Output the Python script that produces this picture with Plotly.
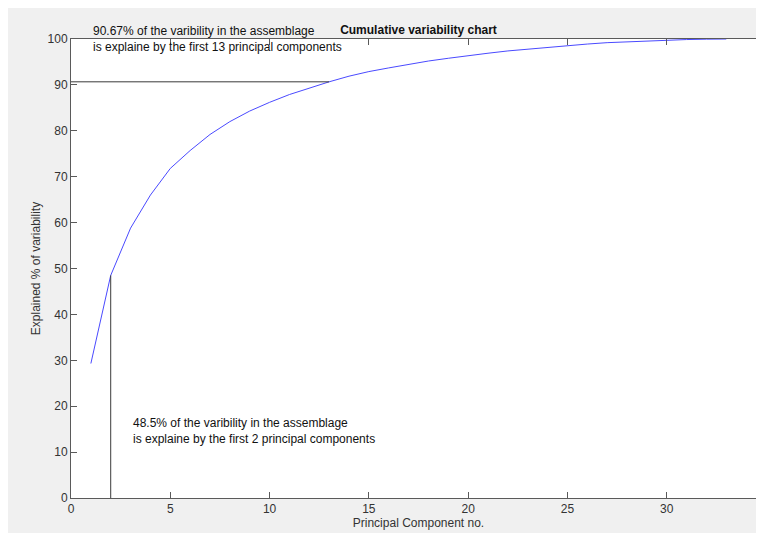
import plotly.graph_objects as go

components = list(range(1, 34))
cumulative = [29.3, 48.5, 58.8, 66.0, 71.8, 75.7, 79.2, 82.0, 84.3, 86.2,
              87.9, 89.3, 90.67, 91.9, 92.9, 93.7, 94.5, 95.2, 95.8, 96.4,
              96.9, 97.4, 97.8, 98.2, 98.6, 98.9, 99.2, 99.4, 99.6, 99.75,
              99.88, 99.96, 100.0]

h_line_x = [0, 13]
h_line_y = [90.67, 90.67]
v_line_x = [2, 2]
v_line_y = [0, 48.5]

note_top = "90.67% of the varibility in the assemblage<br>is explaine by the first 13 principal components"
note_bottom = "48.5% of the varibility in the assemblage<br>is explaine by the first 2 principal components"

x_ticks = [0, 5, 10, 15, 20, 25, 30, 35]
y_ticks = [0, 10, 20, 30, 40, 50, 60, 70, 80, 90, 100]

W, H = 800, 533
L, R, T, B = 63, 42, 31, 43

fig = go.Figure()
fig.add_trace(go.Scatter(x=components, y=cumulative, mode="lines",
                         line=dict(color="#4a4aff", width=1), showlegend=False))
fig.add_trace(go.Scatter(x=h_line_x, y=h_line_y, mode="lines",
                         line=dict(color="#3a3a3a", width=1), showlegend=False))
fig.add_trace(go.Scatter(x=v_line_x, y=v_line_y, mode="lines",
                         line=dict(color="#3a3a3a", width=1), showlegend=False))

font_family = "Liberation Sans, Arial, sans-serif"
axis_common = dict(
    showline=True, linecolor="#5a5a5a", linewidth=1, mirror="ticks",
    ticks="inside", ticklen=6, tickcolor="#5a5a5a", tickwidth=1,
    showgrid=False, zeroline=False,
    tickfont=dict(family=font_family, size=12, color="#333333"),
)

fig.update_layout(
    width=W, height=H,
    margin=dict(l=L, r=R, t=T, b=B),
    paper_bgcolor="#f0f0f0", plot_bgcolor="white",
    title=dict(text="<b>Cumulative variability chart</b>", x=0.5,
               xref="paper", xanchor="center",
               y=(H - 22) / H, yref="container", yanchor="middle",
               font=dict(family=font_family, size=12, color="#111111")),
    xaxis=dict(range=[0, 35], tickvals=x_ticks,
               title=dict(text="Principal Component no.", standoff=3,
                          font=dict(family=font_family, size=12, color="#333333")),
               **axis_common),
    yaxis=dict(range=[0, 100], tickvals=y_ticks,
               title=dict(text="Explained % of variability", standoff=4,
                          font=dict(family=font_family, size=12, color="#333333")),
               **axis_common),
    annotations=[
        dict(text=note_top, x=1, y=1.001, xref="x", yref="paper",
             xanchor="left", yanchor="middle", align="left", showarrow=False,
             font=dict(family=font_family, size=12, color="#111111")),
        dict(text=note_bottom, x=3, y=14.6, xref="x", yref="y",
             xanchor="left", yanchor="middle", align="left", showarrow=False,
             font=dict(family=font_family, size=12, color="#111111")),
    ],
)

fig.write_html("out.html")
